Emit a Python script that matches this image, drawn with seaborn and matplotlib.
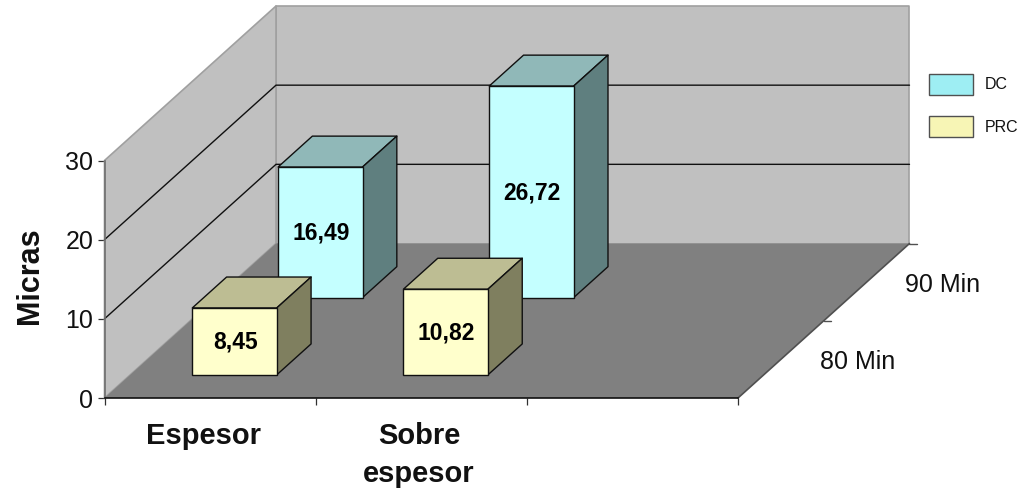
import matplotlib
matplotlib.use("Agg")
import matplotlib.pyplot as plt
from matplotlib.patches import Patch
import pandas as pd
import seaborn as sns

# Chart content
categories = ["Espesor", "Sobre\nespesor", ""]
depth_labels = ["80 Min", "90 Min"]
series_names = ["PRC", "DC"]
prc_values = [8.45, 10.82]
dc_values = [16.49, 26.72]
value_ticks = [0, 10, 20, 30]

# Colours of the extruded bars: front, top, side
dc_faces = ("#C4FFFF", "#90B8B8", "#5F7F7F")
prc_faces = ("#FFFFCC", "#BDBD93", "#7F7F5F")
legend_colors = {"DC": "#9EEEF3", "PRC": "#F7F5B5"}
WALL = "#C0C0C0"
FLOOR = "#808080"
WALL_EDGE = "#A0A0A0"

W, H = 1025, 493
sns.set_theme(style="white")
plt.rcParams["font.family"] = ["Liberation Sans", "DejaVu Sans"]

fig = plt.figure(figsize=(W / 100, H / 100), dpi=100, facecolor="white")
# Axes span the front plane of the box: three categories wide, 0-30 tall
ax = fig.add_axes([104.5 / W, (H - 398) / H, 633.5 / W, 237.5 / H])
ax.patch.set_visible(False)

X_MAX, Z_MAX = len(categories), value_ticks[-1]
# Oblique offset of a full unit of depth, in data units of each axis
DX = 171.5 / (633.5 / X_MAX)
DZ = 154.5 / (237.5 / Z_MAX)

BAR_W = 0.4
BAR_D = 0.2
BAR_CENTER = 0.494


def project(x, d, z):
    """Oblique projection of (category, depth, value) onto the axes' data plane."""
    return x + d * DX, z + d * DZ


def face(points, color, edge="none", lw=0.0, zorder=1):
    xy = [project(*p) for p in points]
    ax.fill([p[0] for p in xy], [p[1] for p in xy], facecolor=color,
            edgecolor=edge, linewidth=lw, zorder=zorder, clip_on=False,
            joinstyle="round")


def draw_row(values, d_center, faces, zorder):
    """One row of bars: the front faces through seaborn, then top and side."""
    d0 = d_center - BAR_D / 2
    d1 = d_center + BAR_D / 2
    shift_x, floor_z = project(0, d0, 0)
    n = len(values)
    frame = pd.DataFrame({
        "pos": [i + BAR_CENTER + shift_x for i in range(n)],
        "value": values,
    })
    sns.barplot(data=frame, x="pos", y="value", native_scale=True, width=BAR_W,
                bottom=floor_z, color=faces[0], saturation=1, errorbar=None,
                edgecolor="#101010", linewidth=1.0, zorder=zorder + 0.2,
                clip_on=False, ax=ax)
    for i, v in enumerate(values):
        x0, x1 = i + BAR_CENTER - BAR_W / 2, i + BAR_CENTER + BAR_W / 2
        face([(x0, d0, v), (x1, d0, v), (x1, d1, v), (x0, d1, v)], faces[1],
             "#101010", 1.0, zorder)
        face([(x1, d0, 0), (x1, d1, 0), (x1, d1, v), (x1, d0, v)], faces[2],
             "#101010", 1.0, zorder)
        lx, lz = project(i + BAR_CENTER, d0, v / 2)
        ax.annotate(f"{v:.2f}".replace(".", ","), (lx, lz), xytext=(0.5, -0.8),
                    textcoords="offset points", ha="center", va="center",
                    fontsize=16.5, fontweight="bold", color="black",
                    zorder=zorder + 0.4, annotation_clip=False)


# Walls and floor of the box
face([(0, 1, 0), (X_MAX, 1, 0), (X_MAX, 1, Z_MAX), (0, 1, Z_MAX)], WALL, WALL_EDGE, 1.2)
face([(0, 0, 0), (0, 1, 0), (0, 1, Z_MAX), (0, 0, Z_MAX)], WALL, WALL_EDGE, 1.2)
face([(0, 0, 0), (X_MAX, 0, 0), (X_MAX, 1, 0), (0, 1, 0)], FLOOR, zorder=1.1)

# Gridlines running along the side wall and across the back wall
for z in value_ticks[1:-1]:
    xy = [project(0, 0, z), project(0, 1, z), project(X_MAX, 1, z)]
    ax.plot([p[0] for p in xy], [p[1] for p in xy], color="#101010", lw=1.0,
            zorder=1.5, clip_on=False, solid_joinstyle="miter")

# Right edge of the floor with its depth ticks
edge = [project(X_MAX, 0, 0), project(X_MAX, 1, 0)]
ax.plot([p[0] for p in edge], [p[1] for p in edge], color="#505050", lw=1.2,
        zorder=1.6, clip_on=False)
for d in (0.5, 1.0):
    tx, tz = project(X_MAX, d, 0)
    ax.plot([tx, tx + 0.035], [tz, tz], color="#505050", lw=1.0, zorder=1.6,
            clip_on=False)

# Back row first so the front row overlaps it
draw_row(dc_values, 0.75, dc_faces, 3)
draw_row(prc_values, 0.25, prc_faces, 5)

# Depth axis labels, set off to the right of the floor edge
for label, d in zip(depth_labels, (0.25, 0.75)):
    lx, lz = project(X_MAX, d, 0)
    ax.annotate(label, (lx, lz), xytext=(55, -2), textcoords="offset points",
                ha="center", va="center", fontsize=18, color="#111111",
                annotation_clip=False)

# Regular axes: value scale on the left, categories along the bottom
ax.set_xlim(0, X_MAX)
ax.set_ylim(0, Z_MAX)
ax.set_xlabel("")
ax.set_ylabel("Micras", fontsize=22, fontweight="bold", color="#111111",
              labelpad=14.5, y=0.515)
ax.set_yticks(value_ticks)
ax.set_yticklabels([str(v) for v in value_ticks], fontsize=18, color="#111111")
ax.set_xticks(range(X_MAX + 1))
ax.set_xticklabels([])
ax.set_xticks([0.47, 1.49, 2.5], minor=True)
ax.set_xticklabels(categories, minor=True, fontsize=21, fontweight="bold",
                   color="#111111", va="top", linespacing=1.45)
ax.tick_params(axis="x", which="major", direction="out", length=5, width=0.9,
               color="#303030", bottom=True)
ax.tick_params(axis="x", which="minor", length=0, pad=17.5, bottom=False)
ax.tick_params(axis="y", direction="out", length=5, width=0.9, color="#303030",
               pad=3, left=True)
for side in ("top", "right"):
    ax.spines[side].set_visible(False)
ax.spines["left"].set_color("#707070")
ax.spines["left"].set_linewidth(1.2)
ax.spines["bottom"].set_color("#101010")
ax.spines["bottom"].set_linewidth(1.2)

# Legend to the right of the box
handles = [Patch(facecolor=legend_colors[n], edgecolor="#505050", linewidth=1.0)
           for n in series_names[::-1]]
ax.legend(handles, series_names[::-1], loc="upper left",
          bbox_to_anchor=(929 / W, 1 - 74 / H), bbox_transform=fig.transFigure,
          frameon=False, fontsize=11.5, handlelength=2.75, handleheight=1.6,
          handletextpad=0.75, labelspacing=1.35, borderpad=0, borderaxespad=0,
          labelcolor="#111111")

fig.savefig("out.png", dpi=100, facecolor="white")
